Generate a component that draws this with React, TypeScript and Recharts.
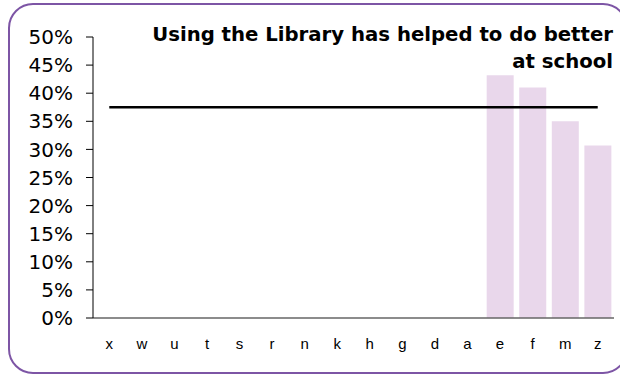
import { Bar, ComposedChart, Line, XAxis, YAxis } from 'recharts';

const categories = ['x', 'w', 'u', 't', 's', 'r', 'n', 'k', 'h', 'g', 'd', 'a', 'e', 'f', 'm', 'z'];
const shares: (number | null)[] = [null, null, null, null, null, null, null, null, null, null, null, null, 0.432, 0.41, 0.35, 0.307];
const average = [0.375, 0.375, 0.375, 0.375, 0.375, 0.375, 0.375, 0.375, 0.375, 0.375, 0.375, 0.375, 0.375, 0.375, 0.375, 0.375];
const yTicks = [0, 0.05, 0.1, 0.15, 0.2, 0.25, 0.3, 0.35, 0.4, 0.45, 0.5];
const titleLines = ['Using the Library has helped to do better', 'at school'];

const data = categories.map((name, i) => ({ name, share: shares[i], average: average[i] }));

export default function App() {
	return (
		<div style={{ position: 'absolute', left: 0, top: 0, width: 620, height: 374, overflow: 'hidden', background: '#fff' }}>
			<div
				style={{
					position: 'absolute',
					left: 8,
					top: 3,
					width: 620,
					height: 371,
					boxSizing: 'border-box',
					border: '2px solid #7d55a5',
					borderRadius: 25,
				}}
			/>
			<ComposedChart
				width={620}
				height={374}
				data={data}
				margin={{ top: 37, right: 6, left: 0, bottom: 31 }}
				barCategoryGap='9%'
				style={{ position: 'absolute', left: 0, top: 0 }}
			>
				<XAxis
					dataKey='name'
					height={25}
					tickLine={false}
					tickMargin={14}
					axisLine={{ stroke: '#666', strokeWidth: 1.5 }}
					tick={{ fill: '#000', fontSize: 15, fontFamily: 'Liberation Sans' }}
					interval={0}
				/>
				<YAxis
					width={93}
					domain={[0, 0.5]}
					ticks={yTicks}
					tickFormatter={(v) => `${Math.round(v * 100)}%`}
					tickSize={7}
					tickMargin={13}
					axisLine={{ stroke: '#000' }}
					tickLine={{ stroke: '#000' }}
					tick={{ fill: '#000', fontSize: 20, fontFamily: 'DejaVu Sans' }}
					interval={0}
				/>
				<Bar dataKey='share' fill='#e9d7eb' isAnimationActive={false} />
				<Line
					type='linear'
					dataKey='average'
					stroke='#000'
					strokeWidth={2.5}
					dot={false}
					isAnimationActive={false}
				/>
			</ComposedChart>
			<div
				style={{
					position: 'absolute',
					right: 7,
					top: 21,
					textAlign: 'right',
					fontFamily: 'DejaVu Sans',
					fontWeight: 'bold',
					fontSize: 19.7,
					lineHeight: '27px',
					color: '#000',
				}}
			>
				{titleLines.map((t) => (
					<div key={t}>{t}</div>
				))}
			</div>
		</div>
	);
}
